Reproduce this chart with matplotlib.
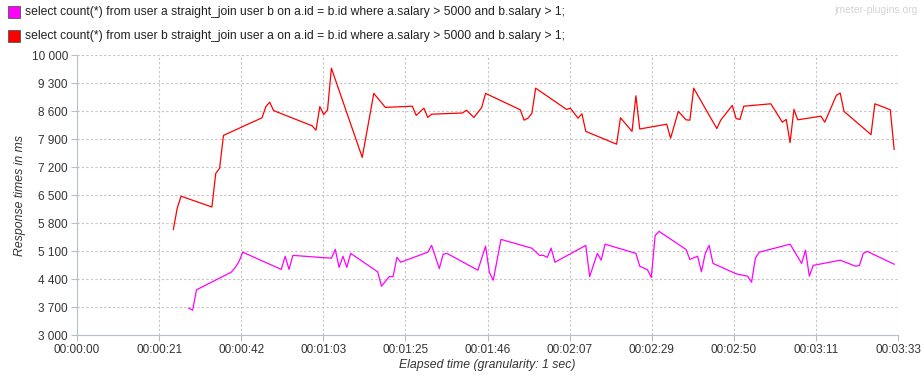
import matplotlib.pyplot as plt
from matplotlib.patches import Rectangle
from matplotlib.ticker import FuncFormatter

plt.rcParams['font.family'] = ['Liberation Sans', 'DejaVu Sans']

labels = [
    "select count(*) from user a straight_join user b on a.id = b.id where a.salary > 5000 and b.salary > 1;",
    "select count(*) from user b straight_join user a on a.id = b.id where a.salary > 5000 and b.salary > 1;",
]
colors = ["#ff00ff", "#ff0000"]

# series 1 (magenta): elapsed seconds, response ms
t1 = [29, 30, 31, 40, 41, 42, 43, 53, 54, 55, 56, 66, 67, 68, 69, 70, 71,
      78, 79, 81, 82, 83, 84, 91, 92, 94, 95, 96, 104, 106, 107, 108, 110,
      118, 120, 121, 122, 123, 124, 132, 133, 135, 136, 137, 145, 146, 148,
      149, 150, 151, 158, 159, 161, 162, 163, 164, 165, 171, 174, 175, 176,
      177, 185, 188, 189, 190, 191, 198, 202, 203, 204, 205, 212]
v1 = [3670, 3620, 4130, 4570, 4680, 4830, 5070, 4640, 4970, 4640, 4990,
      4920, 5140, 4690, 4970, 4690, 5040, 4580, 4220, 4460, 4460, 4940, 4820,
      5070, 5240, 4660, 5020, 5040, 4620, 5220, 4560, 4370, 5390, 5170, 4990,
      4990, 4940, 5170, 4820, 5240, 4460, 5040, 4870, 5270, 5040, 4720, 4630,
      4440, 5490, 5590, 5140, 4890, 4970, 4580, 5040, 5240, 4790, 4530, 4470,
      4320, 4920, 5070, 5270, 4790, 5120, 4470, 4740, 4870, 4720, 4740, 5040,
      5090, 4770]

# series 2 (red)
t2 = [25, 26, 27, 35, 36, 37, 38, 48, 49, 50, 51, 61, 62, 63, 64, 65, 66,
      74, 77, 80, 87, 88, 90, 91, 92, 100, 101, 103, 105, 106, 115, 116, 117,
      118, 119, 127, 128, 130, 131, 132, 140, 141, 144, 145, 146, 153, 154,
      156, 158, 159, 160, 166, 167, 170, 171, 172, 173, 180, 183, 184, 185,
      186, 187, 193, 194, 197, 198, 199, 206, 207, 211, 212]
v2 = [5640, 6170, 6470, 6200, 7040, 7170, 7990, 8430, 8710, 8820, 8610,
      8230, 8120, 8710, 8510, 8630, 9670, 7440, 9040, 8690, 8720, 8490, 8670,
      8440, 8520, 8550, 8620, 8440, 8690, 9040, 8630, 8370, 8420, 8540, 9170,
      8640, 8670, 8420, 8530, 8090, 7770, 8430, 8090, 8980, 8150, 8270, 7920,
      8590, 8380, 8370, 9170, 8160, 8370, 8740, 8410, 8390, 8720, 8780, 8320,
      8390, 7810, 8640, 8380, 8470, 8320, 8990, 9050, 8590, 8010, 8780, 8630,
      7640]

xticks = [0, 21.3, 42.6, 63.9, 85.2, 106.5, 127.8, 149.1, 170.4, 191.7, 213]
yticks = list(range(3000, 10001, 700))

fig = plt.figure(figsize=(9.23, 3.81), dpi=100)
ax = fig.add_axes([77 / 923, 46 / 381, 821 / 923, 280 / 381])

ax.plot(t1, v1, color=colors[0], lw=0.9)
ax.plot(t2, v2, color=colors[1], lw=0.9)

ax.set_xlim(0, 213)
ax.set_ylim(3000, 10000)
ax.set_xticks(xticks)
ax.set_yticks(yticks)


def fmt_time(x, pos):
    s = int(x)
    return "%02d:%02d:%02d" % (s // 3600, (s % 3600) // 60, s % 60)


ax.xaxis.set_major_formatter(FuncFormatter(fmt_time))
ax.yaxis.set_major_formatter(FuncFormatter(lambda y, p: "{:,}".format(int(y)).replace(",", " ")))

ax.grid(True, color="#c4c4c4", linestyle=(0, (2, 2)), lw=0.8)
for s in ["top", "right"]:
    ax.spines[s].set_visible(False)
for s in ["left", "bottom"]:
    ax.spines[s].set_color("#b8bfcc")
ax.tick_params(colors="#b8bfcc", labelcolor="#333333", labelsize=8.5, length=4, pad=2.5)

ax.set_xlabel("Elapsed time (granularity: 1 sec)", fontstyle="italic", fontsize=8.8, color="#333333", labelpad=2)
ax.set_ylabel("Response times in ms", fontstyle="italic", fontsize=8.8, color="#333333", labelpad=4)

# legend
for i, (lab, c) in enumerate(zip(labels, colors)):
    yc = 381 - (12 + 24 * i)
    fig.patches.append(Rectangle((8 / 923, (yc - 6) / 381), 12 / 923, 12 / 381,
                                 transform=fig.transFigure, facecolor=c,
                                 edgecolor="#555555", lw=0.6))
    fig.text(25 / 923, yc / 381, lab, fontsize=8.75, va="center", ha="left", color="#222222")

fig.text(918 / 923, 371 / 381, "jmeter-plugins.org", fontsize=7.5, color="#d4d4d4",
         ha="right", va="center")

fig.savefig("out.png", dpi=100)
